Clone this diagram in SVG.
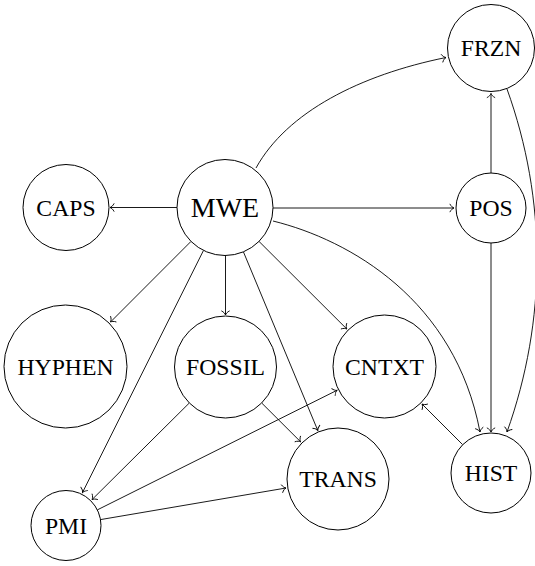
<svg xmlns="http://www.w3.org/2000/svg" width="535" height="566" viewBox="0 0 535 566">
<style>
.node circle{fill:#fff;stroke:#000;stroke-width:1}
.node text{font-size:23.7px;text-anchor:middle;fill:#000}
#n-mwe text{font-size:28px}
#edges path{fill:none;stroke:#000;stroke-width:0.9;marker-end:url(#arr)}
</style>
<defs>
<marker id="arr" markerUnits="userSpaceOnUse" markerWidth="12" markerHeight="12" refX="0" refY="0" orient="auto" overflow="visible" viewBox="-6 -6 12 12">
<path d="M-4,-3.8 C-3,-1.7 -1.2,-0.4 0,0 C-1.2,0.4 -3,1.7 -4,3.8" fill="none" stroke="#000" stroke-width="0.9" stroke-linecap="round"/>
</marker>
</defs>
<rect width="535" height="566" fill="#fff"/>
<g id="edges">
<path d="M177,207.5 L110,207.5"/>
<path d="M256,168 C287,112 360,75 446,57.5"/>
<path d="M273,208 L454,208"/>
<path d="M491,173 L491,93.5"/>
<path d="M507,89 C547,200 547,320 507,432"/>
<path d="M491,243 L491,432"/>
<path d="M273,221 C350,240 455,300 480,432"/>
<path d="M462.7,444.7 L422,404"/>
<path d="M191,241.4 L110.5,322"/>
<path d="M225.5,255.5 L225.5,315"/>
<path d="M203.5,250.4 L82.5,492.5"/>
<path d="M243.4,251.8 L317.8,430.5"/>
<path d="M259,241.4 L346.8,329"/>
<path d="M189.3,403 L92,499.6"/>
<path d="M261.7,403 L300.6,441.8"/>
<path d="M97.3,509.9 L337,390.3"/>
<path d="M100.5,519.6 L286,488"/>
</g>
<g id="n-mwe" class="node"><circle cx="225" cy="207.5" r="48"/><text x="225" y="217" font-family="Liberation Serif, serif">MWE</text></g>
<g id="n-caps" class="node"><circle cx="66" cy="207.5" r="43"/><text x="66" y="215.5" font-family="Liberation Serif, serif">CAPS</text></g>
<g id="n-frzn" class="node"><circle cx="491" cy="48" r="43.5"/><text x="491" y="56" font-family="Liberation Serif, serif">FRZN</text></g>
<g id="n-pos" class="node"><circle cx="491" cy="208" r="35"/><text x="491" y="216" font-family="Liberation Serif, serif">POS</text></g>
<g id="n-hyphen" class="node"><circle cx="65.5" cy="366.5" r="61.5"/><text x="65.5" y="374.5" font-family="Liberation Serif, serif">HYPHEN</text></g>
<g id="n-fossil" class="node"><circle cx="225.5" cy="367" r="51"/><text x="225.5" y="375" font-family="Liberation Serif, serif">FOSSIL</text></g>
<g id="n-cntxt" class="node"><circle cx="384.5" cy="366.5" r="51.5"/><text x="384.5" y="374.5" font-family="Liberation Serif, serif">CNTXT</text></g>
<g id="n-trans" class="node"><circle cx="338" cy="479" r="51"/><text x="338" y="487" font-family="Liberation Serif, serif">TRANS</text></g>
<g id="n-pmi" class="node"><circle cx="66" cy="525.5" r="35"/><text x="66" y="533.5" font-family="Liberation Serif, serif">PMI</text></g>
<g id="n-hist" class="node"><circle cx="491" cy="473" r="40"/><text x="491" y="481" font-family="Liberation Serif, serif">HIST</text></g>
</svg>
